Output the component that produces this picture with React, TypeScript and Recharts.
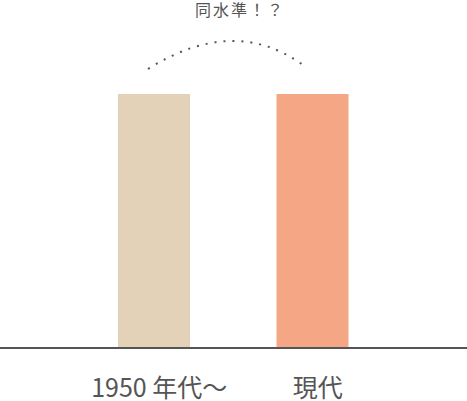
import { BarChart, Bar, XAxis, YAxis, Cell, Customized } from "recharts";

// ── data ──
const categories = ["1950 年代〜", "現代"];
const levels = [100, 100];
const barColors = ["#e3d1b8", "#f5a684"];
const noteText = "同水準！？";

const data = categories.map((name, i) => ({ name, value: levels[i] }));

const W = 467;
const H = 401;
const TEXT = "#555555";
const FONT = "'Noto Sans CJK JP', 'Noto Sans', sans-serif";

function Tick(props: any) {
  const { x, y, payload } = props;
  return (
    <text
      x={x + 5}
      y={y + 42}
      textAnchor="middle"
      fill={TEXT}
      fontSize={25}
      fontFamily={FONT}
    >
      {payload.value}
    </text>
  );
}

// dotted arc + note above the bars
function Note() {
  return (
    <g>
      <text
        x={240}
        y={16}
        textAnchor="middle"
        fill={TEXT}
        fontSize={16}
        fontFamily={FONT}
        letterSpacing={2}
      >
        {noteText}
      </text>
      <path
        d="M148 69 Q234 15 303 65"
        fill="none"
        stroke={TEXT}
        strokeWidth={2}
        strokeDasharray="2 7"
      />
    </g>
  );
}

export default function App() {
  return (
    <div style={{ position: "absolute", left: 0, top: 0, width: W, height: H, background: "#fff" }}>
      <BarChart
        width={W}
        height={H}
        data={data}
        margin={{ top: 94, right: 0, left: 0, bottom: 0 }}
      >
        <YAxis hide domain={[0, 100]} />
        <XAxis
          dataKey="name"
          height={54}
          padding={{ left: 75, right: 75 }}
          axisLine={{ stroke: TEXT, strokeWidth: 2, transform: "translate(0,1)" }}
          tickLine={false}
          tick={<Tick />}
          interval={0}
        />
        <Bar dataKey="value" barSize={72} isAnimationActive={false}>
          {data.map((d, i) => (
            <Cell key={d.name} fill={barColors[i]} />
          ))}
        </Bar>
        <Customized component={<Note />} />
      </BarChart>
    </div>
  );
}
